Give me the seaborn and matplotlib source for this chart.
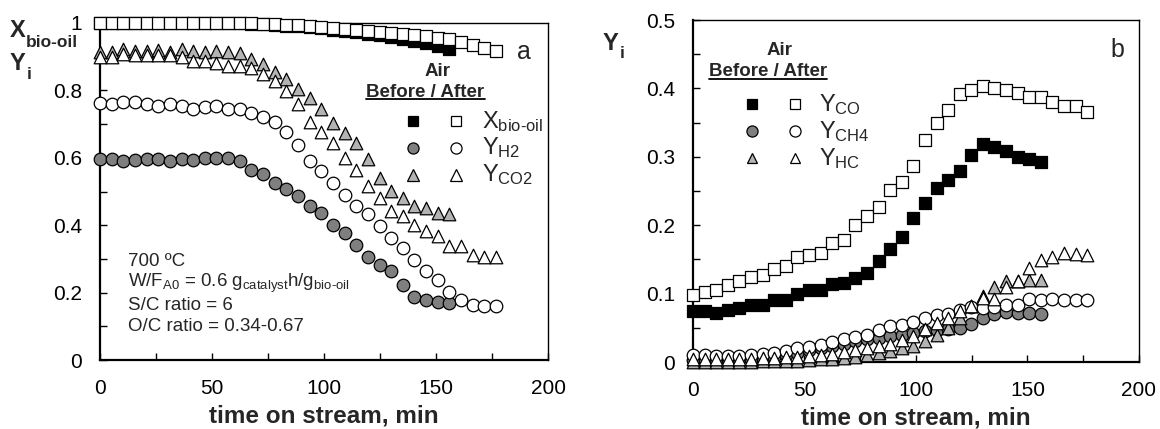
import matplotlib
matplotlib.use("Agg")
import matplotlib.pyplot as plt
import seaborn as sns
import pandas as pd

# ---------------- data ----------------
t_after = [0, 5.2, 10.4, 15.6, 20.8, 26.0, 31.2, 36.4, 41.6, 46.8, 52.0, 57.2,
           62.4, 67.6, 72.8, 78.0, 83.2, 88.4, 93.6, 98.8, 104.0, 109.2, 114.4,
           119.6, 124.8, 130.0, 135.2, 140.4, 145.6, 150.8, 156.0, 161.2, 166.4,
           171.6, 176.8]
t_before = t_after[:31]

# panel a
X_before = [1.0, 1.0, 1.0, 1.0, 1.0, 1.0, 1.0, 1.0, 1.0, 1.0, 1.0, 1.0, 1.0,
            0.998, 0.996, 0.994, 0.992, 0.99, 0.987, 0.984, 0.98, 0.976, 0.972,
            0.968, 0.964, 0.958, 0.952, 0.946, 0.94, 0.932, 0.924]
X_after = [1.0, 1.0, 1.0, 1.0, 1.0, 1.0, 1.0, 1.0, 1.0, 1.0, 1.0, 1.0, 1.0,
           0.999, 0.998, 0.996, 0.995, 0.993, 0.99, 0.988, 0.985, 0.982, 0.979,
           0.976, 0.973, 0.97, 0.967, 0.963, 0.96, 0.956, 0.952, 0.945, 0.935,
           0.925, 0.917]
H2_before = [0.595, 0.595, 0.59, 0.592, 0.595, 0.595, 0.59, 0.595, 0.592, 0.6,
             0.598, 0.598, 0.59, 0.565, 0.553, 0.526, 0.506, 0.486, 0.458, 0.437,
             0.402, 0.377, 0.342, 0.307, 0.283, 0.263, 0.223, 0.188, 0.177,
             0.172, 0.168]
H2_after = [0.764, 0.761, 0.767, 0.767, 0.759, 0.754, 0.759, 0.754, 0.746, 0.75,
            0.754, 0.746, 0.744, 0.734, 0.721, 0.707, 0.677, 0.638, 0.59, 0.56,
            0.526, 0.491, 0.456, 0.432, 0.397, 0.362, 0.332, 0.298, 0.263, 0.238,
            0.203, 0.179, 0.164, 0.159, 0.159]
CO2_before = [0.913, 0.915, 0.923, 0.918, 0.918, 0.92, 0.913, 0.923, 0.918,
              0.915, 0.918, 0.915, 0.91, 0.893, 0.878, 0.856, 0.835, 0.804,
              0.778, 0.745, 0.704, 0.675, 0.645, 0.595, 0.54, 0.501, 0.481,
              0.456, 0.452, 0.437, 0.432]
CO2_after = [0.898, 0.9, 0.908, 0.906, 0.904, 0.904, 0.904, 0.898, 0.888, 0.886,
             0.88, 0.873, 0.873, 0.866, 0.85, 0.828, 0.798, 0.759, 0.707, 0.676,
             0.645, 0.6, 0.565, 0.516, 0.481, 0.441, 0.427, 0.402, 0.382, 0.367,
             0.337, 0.337, 0.313, 0.307, 0.307]

# panel b
CO_before = [0.074, 0.074, 0.071, 0.076, 0.079, 0.083, 0.083, 0.091, 0.091, 0.1,
             0.105, 0.105, 0.114, 0.115, 0.123, 0.13, 0.147, 0.165, 0.183, 0.211,
             0.232, 0.254, 0.266, 0.279, 0.303, 0.318, 0.314, 0.308, 0.299,
             0.297, 0.293]
CO_after = [0.098, 0.103, 0.105, 0.113, 0.119, 0.125, 0.127, 0.136, 0.14, 0.154,
            0.156, 0.16, 0.174, 0.178, 0.201, 0.214, 0.227, 0.252, 0.263, 0.287,
            0.324, 0.349, 0.368, 0.392, 0.398, 0.404, 0.401, 0.397, 0.394, 0.388,
            0.387, 0.38, 0.375, 0.374, 0.366]
CH4_before = [0.003, 0.003, 0.003, 0.004, 0.004, 0.005, 0.006, 0.008, 0.01,
              0.013, 0.017, 0.02, 0.024, 0.027, 0.031, 0.033, 0.035, 0.038, 0.04,
              0.043, 0.045, 0.047, 0.048, 0.05, 0.055, 0.064, 0.07, 0.073, 0.072,
              0.072, 0.07]
CH4_after = [0.01, 0.01, 0.009, 0.009, 0.009, 0.01, 0.011, 0.013, 0.016, 0.021,
             0.022, 0.025, 0.029, 0.033, 0.037, 0.04, 0.047, 0.053, 0.054, 0.059,
             0.065, 0.069, 0.07, 0.076, 0.081, 0.079, 0.081, 0.083, 0.083, 0.092,
             0.09, 0.092, 0.09, 0.09, 0.09]
HC_before = [0.0, 0.0, 0.0, 0.0, 0.0, 0.0, 0.001, 0.001, 0.002, 0.002, 0.003,
             0.004, 0.005, 0.006, 0.008, 0.01, 0.013, 0.016, 0.02, 0.024, 0.03,
             0.04, 0.05, 0.065, 0.082, 0.097, 0.109, 0.118, 0.118, 0.12, 0.12]
HC_after = [0.005, 0.005, 0.005, 0.005, 0.005, 0.005, 0.006, 0.006, 0.007, 0.008,
            0.009, 0.01, 0.012, 0.014, 0.017, 0.02, 0.023, 0.027, 0.032, 0.038,
            0.048, 0.057, 0.064, 0.074, 0.082, 0.093, 0.092, 0.11, 0.119, 0.137,
            0.149, 0.153, 0.159, 0.158, 0.157]

x_ticks = [0, 50, 100, 150, 200]
ya_ticks = [0, 0.2, 0.4, 0.6, 0.8, 1]
yb_ticks = [0, 0.1, 0.2, 0.3, 0.4, 0.5]
ya_labels = ["0", "0.2", "0.4", "0.6", "0.8", "1"]
yb_labels = ["0", "0.1", "0.2", "0.3", "0.4", "0.5"]

# ---------------- style ----------------
sns.set_theme(style="ticks")
plt.rcParams['font.family'] = ['Liberation Sans', 'DejaVu Sans']
plt.rcParams['mathtext.fontset'] = 'custom'
plt.rcParams['mathtext.rm'] = 'Liberation Sans'
plt.rcParams['mathtext.it'] = 'Liberation Sans:italic'
plt.rcParams['mathtext.bf'] = 'Liberation Sans:bold'

DARK = '#7f7f7f'
LIGHT = '#b3b3b3'
S = 82
LW = 0.9

fig = plt.figure(figsize=(11.6, 4.29), dpi=100)
axa = fig.add_axes([100/1160, 1-360/429, 448/1160, 337/429])
axb = fig.add_axes([693/1160, 1-362/429, 446/1160, 342/429])


def scat(ax, x, y, marker, fc, s=S, z=3):
    sns.scatterplot(x=x, y=y, marker=marker, s=s, color=fc, edgecolor='black',
                    linewidth=LW, ax=ax, legend=False, zorder=z, clip_on=False)


# panel a series
scat(axa, t_before, X_before, 's', 'black')
scat(axa, t_after, X_after, 's', 'white', z=4)
scat(axa, t_before, H2_before, 'o', DARK)
scat(axa, t_after, H2_after, 'o', 'white', z=4)
scat(axa, t_before, CO2_before, '^', LIGHT)
scat(axa, t_after, CO2_after, '^', 'white', z=4)

# panel b series
scat(axb, t_before, CO_before, 's', 'black')
scat(axb, t_after, CO_after, 's', 'white', z=4)
scat(axb, t_before, CH4_before, 'o', DARK)
scat(axb, t_after, CH4_after, 'o', 'white', z=4)
scat(axb, t_before, HC_before, '^', LIGHT)
scat(axb, t_after, HC_after, '^', 'white', z=4)

for ax, yt, yl, ymax, ym in [(axa, ya_ticks, ya_labels, 1.0, 0.1),
                             (axb, yb_ticks, yb_labels, 0.5, 0.05)]:
    ax.set_xlim(0, 200)
    ax.set_ylim(0, ymax)
    ax.set_xticks(x_ticks)
    ax.set_xticklabels([str(v) for v in x_ticks])
    ax.set_yticks(yt)
    ax.set_yticklabels(yl)
    ax.set_xticks([25, 75, 125, 175], minor=True)
    ax.set_yticks([v + ym for v in yt[:-1]], minor=True)
    ax.tick_params(axis='both', which='both', direction='in', top=False,
                   right=False, colors='black', labelsize=15)
    ax.tick_params(axis='both', which='major', length=5, width=1)
    ax.tick_params(axis='both', which='minor', length=5, width=1)
    ax.tick_params(axis='y', pad=13)
    ax.tick_params(axis='x', pad=14)
    ax.set_ylabel('')
    ax.set_xlabel('time on stream, min', fontsize=17.5, fontweight='bold',
                  labelpad=4)
    for sp in ['left', 'bottom']:
        ax.spines[sp].set_linewidth(1.6)
        ax.spines[sp].set_color('black')
    for sp in ['top', 'right']:
        ax.spines[sp].set_linewidth(1.0)
        ax.spines[sp].set_color('black')
        ax.spines[sp].set_visible(True)
    ax.set_facecolor('white')

fig.canvas.draw()
# y labels (bold with subscripts)
for (xp, yp, base, sub, dy) in [(10, 37, 'X', 'bio-oil', 10),
                                (10, 70, 'Y', 'i', 9),
                                (603, 50, 'Y', 'i', 8)]:
    t = fig.text(xp/1160, 1-yp/429, base, fontsize=17, fontweight='bold',
                 ha='left', va='baseline')
    fig.canvas.draw()
    bb = t.get_window_extent()
    fig.text((bb.x1 + 0.5)/1160, (1-(yp + dy)/429), sub, fontsize=12.5,
             fontweight='bold', ha='left', va='baseline')

# panel letters
axa.text(0.946, 0.914, 'a', transform=axa.transAxes, fontsize=18,
         ha='center', va='center')
axb.text(0.951, 0.912, 'b', transform=axb.transAxes, fontsize=18,
         ha='center', va='center')

# annotation panel a
ann = ['700 ºC',
       r'W/F$_{\mathrm{A0}}$ = 0.6 g$_{\mathrm{catalyst}}$h/g$_{\mathrm{bio}\text{-}\mathrm{oil}}$',
       'S/C ratio = 6',
       'O/C ratio = 0.34-0.67']
for txt, fy in zip(ann, [0.292, 0.228, 0.163, 0.099]):
    axa.text(0.0625, fy, txt, transform=axa.transAxes, fontsize=13.5,
             ha='left', va='center')


def legend_block(ax, xc_air, y_air, xc_ba, y_ba, xm1, xm2, xt, rows, ms):
    ax.text(xc_air, y_air, 'Air', transform=ax.transAxes, fontsize=13.5,
            fontweight='bold', ha='center', va='center')
    ba = ax.text(xc_ba, y_ba, 'Before / After', transform=ax.transAxes,
                 fontsize=13.5, fontweight='bold', ha='center', va='center')
    fig.canvas.draw()
    bb = ba.get_window_extent().transformed(ax.transAxes.inverted())
    ax.plot([bb.x0, bb.x1], [bb.y0 + 0.004, bb.y0 + 0.004],
            transform=ax.transAxes, color='black', lw=1.3, clip_on=False)
    for (marker, fc, label, fy), m in zip(rows, ms):
        ax.plot([xm1], [fy], marker=marker, ms=m, mfc=fc, mec='black',
                mew=LW, ls='none', transform=ax.transAxes, clip_on=False)
        ax.plot([xm2], [fy], marker=marker, ms=m, mfc='white', mec='black',
                mew=LW, ls='none', transform=ax.transAxes, clip_on=False)
        ax.text(xt, fy, label, transform=ax.transAxes, fontsize=17,
                ha='left', va='center')


legend_block(axa, 0.754, 0.855, 0.7266, 0.795, 0.698, 0.795, 0.852,
             [('s', 'black', r'X$_{\mathrm{bio}\text{-}\mathrm{oil}}$', 0.709),
              ('o', DARK, r'Y$_{\mathrm{H2}}$', 0.630),
              ('^', LIGHT, r'Y$_{\mathrm{CO2}}$', 0.549)],
             [7.8, 8.0, 8.0])
legend_block(axb, 0.193, 0.912, 0.168, 0.848, 0.132, 0.229, 0.283,
             [('s', 'black', r'Y$_{\mathrm{CO}}$', 0.754),
              ('o', DARK, r'Y$_{\mathrm{CH4}}$', 0.675),
              ('^', LIGHT, r'Y$_{\mathrm{HC}}$', 0.596)],
             [7.8, 8.0, 7.5])

fig.savefig('out.png', dpi=100, facecolor='white')
